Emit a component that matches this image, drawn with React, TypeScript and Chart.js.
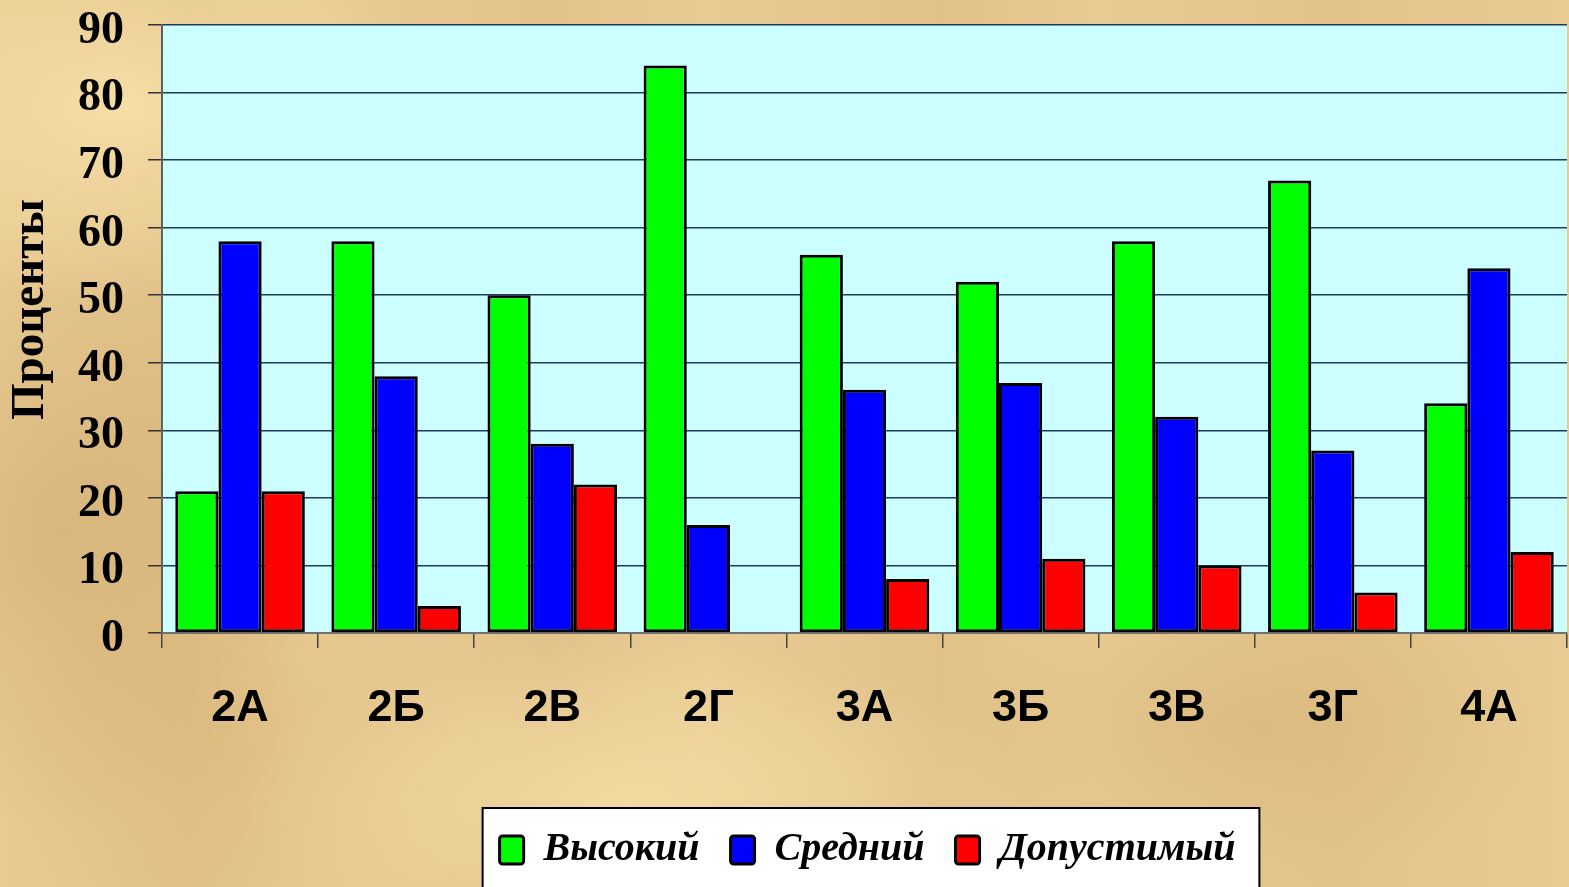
import React, { useEffect, useRef } from "react";
import { Chart, registerables } from "chart.js";

Chart.register(...registerables);

const categories = ["2А", "2Б", "2В", "2Г", "3А", "3Б", "3В", "3Г", "4А"];
const highValues = [21, 58, 50, 84, 56, 52, 58, 67, 34];
const mediumValues = [58, 38, 28, 16, 36, 37, 32, 27, 54];
const acceptableValues = [21, 4, 22, 0, 8, 11, 10, 6, 12];
const seriesNames = ["Высокий", "Средний", "Допустимый"];
const yTitle = "Проценты";

const plotBg = {
  id: "plotBg",
  afterLayout(chart: any) {
    const lg = chart.legend;
    if (lg) {
      lg.left += 84;
      lg.right += 84;
    }
  },
  beforeDraw(chart: any) {
    const { ctx, chartArea } = chart;
    ctx.save();
    ctx.fillStyle = "#CCFFFF";
    ctx.fillRect(chartArea.left, chartArea.top, chartArea.right - chartArea.left, chartArea.bottom - chartArea.top);
    const lg = chart.legend;
    if (lg && lg.legendHitBoxes && lg.legendHitBoxes.length) {
      const hb = lg.legendHitBoxes;
      const left = Math.min(...hb.map((h: any) => h.left)) - 17;
      const right = Math.max(...hb.map((h: any) => h.left + h.width)) + 24;
      const center = hb[0].top + hb[0].height / 2;
      const top = center - 42;
      ctx.fillStyle = "#FFFFFF";
      ctx.fillRect(left, top, right - left, chart.height - top + 10);
      ctx.strokeStyle = "#000000";
      ctx.lineWidth = 2;
      ctx.strokeRect(left, top, right - left, chart.height - top + 10);
    }
    ctx.restore();
  },
  afterDraw(chart: any) {
    const { ctx, chartArea } = chart;
    ctx.save();
    ctx.translate(31, chartArea.top + (chartArea.bottom - chartArea.top) * 0.468);
    ctx.rotate(-Math.PI / 2);
    ctx.textAlign = "center";
    ctx.textBaseline = "middle";
    ctx.fillStyle = "#000000";
    ctx.font = "bold 47px 'Liberation Serif', 'Times New Roman', serif";
    ctx.fillText(yTitle, 0, 0);
    ctx.restore();
  },
};

export default function App() {
  const ref = useRef<HTMLCanvasElement | null>(null);
  useEffect(() => {
    if (!ref.current) return;
    const chart = new Chart(ref.current, {
      type: "bar",
      data: {
        labels: categories,
        datasets: [
          { label: seriesNames[0], data: highValues, backgroundColor: "#00FF00", borderColor: "#000000", borderWidth: 3, borderSkipped: false },
          { label: seriesNames[1], data: mediumValues, backgroundColor: "#0000FF", borderColor: "#000000", borderWidth: 3, borderSkipped: false },
          { label: seriesNames[2], data: acceptableValues, backgroundColor: "#FF0000", borderColor: "#000000", borderWidth: 3, borderSkipped: false },
        ],
      },
      options: {
        animation: false,
        responsive: true,
        maintainAspectRatio: false,
        datasets: { bar: { categoryPercentage: 0.83, barPercentage: 1.0 } },
        layout: { padding: { top: 25, left: 0, right: 2, bottom: 7 } },
        plugins: {
          tooltip: { enabled: false },
          legend: {
            position: "bottom",
            labels: {
              color: "#000000",
              font: { family: "'Liberation Serif', 'Times New Roman', serif", size: 40, style: "italic", weight: "bold" },
              boxWidth: 24,
              boxHeight: 28,
              padding: 31,
              useBorderRadius: true,
              borderRadius: 3,
            },
          },
        },
        scales: {
          x: {
            grid: { drawOnChartArea: false, drawTicks: true, tickLength: 15, color: "#444444", lineWidth: 1.5, offset: true },
            border: { display: true, color: "#707070", width: 2 },
            ticks: {
              color: "#000000",
              padding: 34,
              font: { family: "'Liberation Sans', Arial, sans-serif", size: 45, weight: "bold" },
            },
            afterFit(scale: any) {
              scale.height = 166;
            },
          },
          y: {
            min: 0,
            max: 90,
            ticks: {
              stepSize: 10,
              color: "#000000",
              padding: 24,
              labelOffset: 6,
              font: { family: "'Liberation Serif', 'Times New Roman', serif", size: 46, weight: "bold" },
            },
            grid: { color: "#1E3A5F", lineWidth: 1.5, tickLength: 14, tickColor: "#333333", drawTicks: true },
            border: { display: true, color: "#606060", width: 2 },
            title: { display: false },
            afterFit(scale: any) {
              scale.width = 162;
              scale.paddingTop = 0;
              scale.paddingBottom = 0;
            },
          },
        },
      },
      plugins: [plotBg],
    } as any);
    return () => chart.destroy();
  }, []);

  const bg =
    "radial-gradient(ellipse 300px 200px at 8% 12%, rgba(248,226,170,0.85), rgba(248,226,170,0) 100%)," +
    "radial-gradient(ellipse 260px 300px at 4% 60%, rgba(200,160,100,0.45), rgba(200,160,100,0) 100%)," +
    "radial-gradient(ellipse 400px 160px at 40% 90%, rgba(245,222,165,0.8), rgba(245,222,165,0) 100%)," +
    "radial-gradient(ellipse 300px 150px at 80% 82%, rgba(215,180,120,0.6), rgba(215,180,120,0) 100%)," +
    "radial-gradient(ellipse 250px 180px at 15% 85%, rgba(220,185,125,0.6), rgba(220,185,125,0) 100%)," +
    "linear-gradient(90deg, rgba(0,0,0,0) 0%, rgba(190,150,90,0.18) 12%, rgba(0,0,0,0) 20%, rgba(190,150,90,0.15) 35%, rgba(0,0,0,0) 45%, rgba(190,150,90,0.18) 60%, rgba(0,0,0,0) 70%, rgba(190,150,90,0.15) 85%, rgba(0,0,0,0) 100%)," +
    "#E8CB93";

  return (
    <div style={{ position: "fixed", left: 0, top: 0, width: "1569px", height: "887px", background: bg, overflow: "hidden" }}>
      <canvas ref={ref} />
    </div>
  );
}
